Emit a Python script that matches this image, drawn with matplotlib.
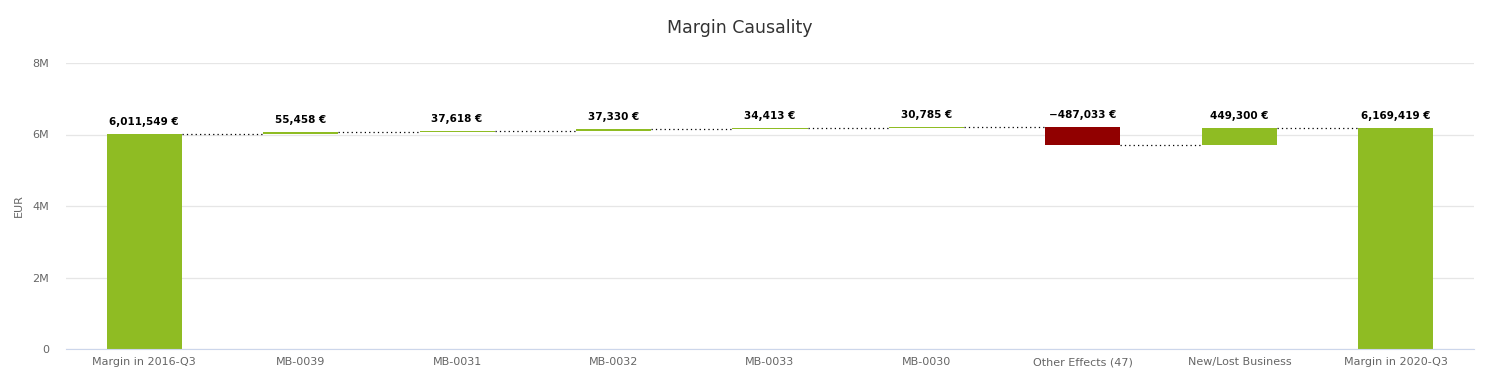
import matplotlib.pyplot as plt
import numpy as np
from matplotlib.ticker import FuncFormatter

categories = ['Margin in 2016-Q3', 'MB-0039', 'MB-0031', 'MB-0032', 'MB-0033',
              'MB-0030', 'Other Effects (47)', 'New/Lost Business', 'Margin in 2020-Q3']
values = [6011549, 55458, 37618, 37330, 34413, 30785, -487033, 449300, 6169419]
is_total = [True, False, False, False, False, False, False, False, True]
labels = ['6,011,549 €', '55,458 €', '37,618 €', '37,330 €', '34,413 €',
          '30,785 €', '\u2212487,033 €', '449,300 €', '6,169,419 €']

GREEN = '#8fbc23'
RED = '#910000'

fig = plt.figure(figsize=(14.89, 3.77), dpi=100)
ax = fig.add_axes([66 / 1489, 28 / 377, (1474 - 66) / 1489, (349 - 63) / 377])

x = np.arange(len(categories))
width = 0.48
running = 0
bottoms, heights, levels = [], [], []
for v, tot in zip(values, is_total):
    if tot:
        bottoms.append(0)
        heights.append(v)
        running = v
    else:
        bottoms.append(min(running, running + v))
        heights.append(abs(v))
        running += v
    levels.append(running)

colors = [RED if v < 0 else GREEN for v in values]
ax.bar(x, heights, width, bottom=bottoms, color=colors, zorder=3)

# dotted connectors
for i in range(len(x) - 1):
    ax.plot([x[i] + width / 2, x[i + 1] - width / 2], [levels[i], levels[i]],
            color='black', lw=0.9, ls=(0, (1, 2.5)), zorder=2)

# value labels above each bar
for i, lab in enumerate(labels):
    top = bottoms[i] + heights[i]
    ax.annotate(lab, (x[i], top), xytext=(0, 5), textcoords='offset points',
                ha='center', va='bottom', fontsize=7.5, fontweight='bold',
                color='black', zorder=4)

ax.set_xlim(-0.5, len(x) - 0.5)
ax.set_ylim(0, 8e6)
ax.set_yticks([0, 2e6, 4e6, 6e6, 8e6])
ax.yaxis.set_major_formatter(FuncFormatter(lambda v, p: '0' if v == 0 else f'{v / 1e6:.0f}M'))
ax.set_xticks(x)
ax.set_xticklabels(categories)
ax.tick_params(axis='both', length=0, labelsize=8, colors='#666666')
ax.tick_params(axis='y', pad=12)
ax.tick_params(axis='x', pad=6)
ax.grid(axis='y', color='#e6e6e6', lw=0.9, zorder=0)
for s in ['top', 'right', 'left']:
    ax.spines[s].set_visible(False)
ax.spines['bottom'].set_color('#ccd6eb')
ax.spines['bottom'].set_zorder(5)
ax.set_ylabel('EUR', fontsize=8, color='#666666', labelpad=6)

fig.text(740 / 1489, 1 - 28 / 377, 'Margin Causality', ha='center', va='center',
         fontsize=12.5, color='#333333')

fig.savefig('out.png', dpi=100)
